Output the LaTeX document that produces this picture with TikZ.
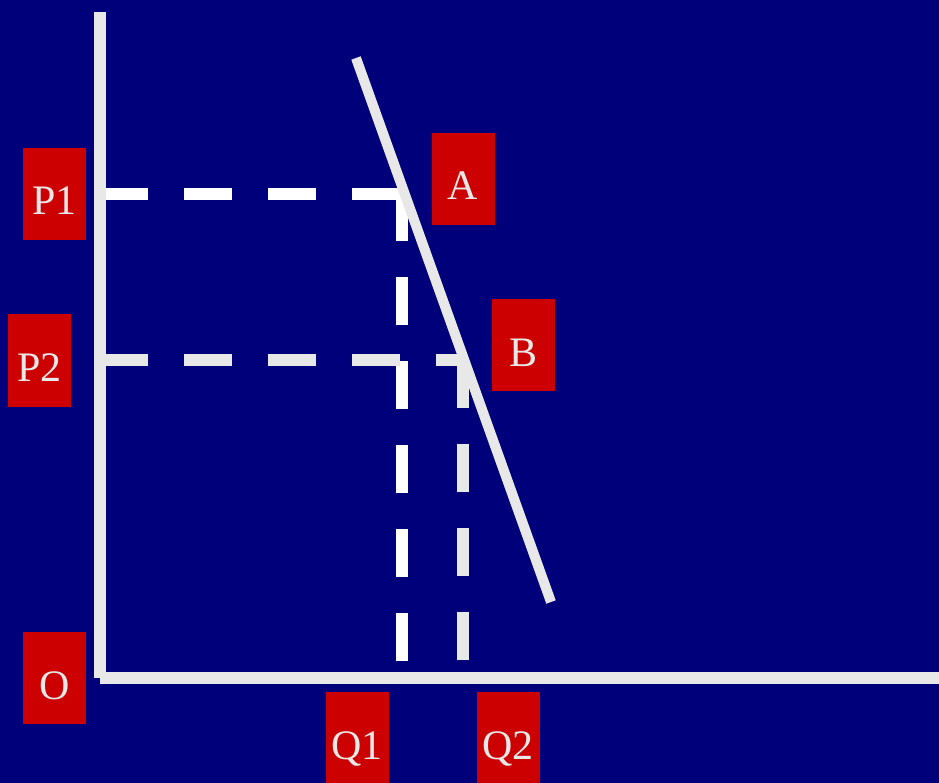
\documentclass[tikz,border=0pt]{standalone}
\usepackage{fontspec}
\setmainfont{Liberation Serif}
\definecolor{navy}{RGB}{0,0,122}
\definecolor{axisgray}{RGB}{232,232,232}
\definecolor{boxred}{RGB}{204,0,0}
\tikzset{
  lbl/.style={fill=boxred, minimum width=63pt, minimum height=92pt, inner sep=0pt,
    text=axisgray, font=\fontsize{42}{42}\selectfont, text height=42pt, text depth=0pt},
  axisline/.style={draw=axisgray, line width=12pt, line cap=butt},
  demandline/.style={draw=axisgray, line width=10pt, line cap=butt},
  dashwhite/.style={draw=white, line width=12pt, line cap=butt, dash pattern=on 48pt off 36pt},
  dashgray/.style={draw=axisgray, line width=12pt, line cap=butt, dash pattern=on 48pt off 36pt}
}
\begin{document}
\begin{tikzpicture}[x=1pt,y=-1pt]
\fill[navy] (0,0) rectangle (939,783);
\useasboundingbox (0,0) rectangle (939,783);
% coordinates
\coordinate (ytop) at (100,12);
\coordinate (orig) at (100,678);
\coordinate (xend) at (939,678);
\coordinate (d1) at (356,58);
\coordinate (d2) at (551,602);
\coordinate (p1s) at (100,194);
\coordinate (ptA) at (402,194);
\coordinate (q1top) at (402,193);
\coordinate (q1e) at (402,662);
\coordinate (p2s) at (100,360);
\coordinate (ptB) at (463,360);
\coordinate (q2e) at (463,660);
% dashed guides
\draw[dashwhite] (p1s) -- (ptA);
\draw[dashwhite] (q1top) -- (q1e);
\draw[dashgray] (p2s) -- (ptB);
\draw[dashgray] (ptB) -- (q2e);
% demand line
\draw[demandline] (d1) -- (d2);
% axes
\draw[axisline] (ytop) -- (orig);
\draw[axisline] (orig) -- (xend);
% labels
\node[lbl] (P1) at (54.5,194) {P1};
\node[lbl] (P2) at (39.5,360.5) {P2};
\node[lbl] (A) at (463,179) {A};
\node[lbl] (B) at (523,345) {B};
\node[lbl] (O) at (54.5,678) {O};
\node[lbl] (Q1) at (357,738) {Q1};
\node[lbl] (Q2) at (508,738) {Q2};
\end{tikzpicture}
\end{document}
